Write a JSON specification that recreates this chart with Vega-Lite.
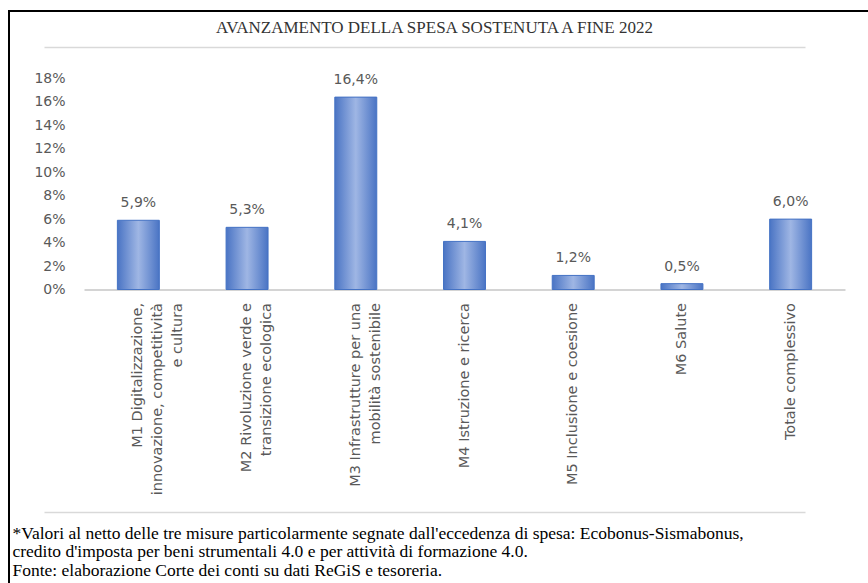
{
  "$schema": "https://vega.github.io/schema/vega-lite/v6.json",
  "autosize": {"type": "none"},
  "padding": {"left": 9, "top": 11, "right": -12, "bottom": -12},
  "width": 871,
  "height": 584,
  "background": "white",
  "title": {
    "text": "AVANZAMENTO DELLA SPESA SOSTENUTA A FINE 2022",
    "font": "Liberation Serif",
    "fontSize": 17,
    "fontWeight": "normal",
    "color": "#333333",
    "anchor": "middle",
    "frame": "group",
    "offset": -26,
    "dx": -10
  },
  "config": {
    "locale": {"number": {"decimal": ",", "thousands": ".", "grouping": [3], "currency": ["€", ""]}},
    "view": {"stroke": "#000000", "strokeWidth": 2, "fill": "white"}
  },
  "data": {
    "values": [
      {"missione": "M1 Digitalizzazione,|innovazione, competitività|e cultura", "valore": 0.059},
      {"missione": "M2 Rivoluzione verde e|transizione ecologica", "valore": 0.053},
      {"missione": "M3 Infrastrutture per una|mobilità sostenibile", "valore": 0.164},
      {"missione": "M4 Istruzione e ricerca", "valore": 0.041},
      {"missione": "M5 Inclusione e coesione", "valore": 0.012},
      {"missione": "M6 Salute", "valore": 0.005},
      {"missione": "Totale complessivo", "valore": 0.060}
    ]
  },
  "encoding": {
    "x": {
      "field": "missione",
      "type": "nominal",
      "sort": null,
      "scale": {"range": [75, 836], "paddingInner": 0.614, "paddingOuter": 0.307},
      "axis": {
        "orient": "bottom",
        "offset": -305.5,
        "labelExpr": "split(datum.label, '|')",
        "labelAngle": -90,
        "labelAlign": "right",
        "labelBaseline": "middle",
        "labelPadding": 13,
        "labelFont": "DejaVu Sans",
        "labelFontSize": 14.5,
        "labelColor": "#595959",
        "labelLineHeight": 20,
        "labelLimit": 500,
        "labelOverlap": false,
        "ticks": false,
        "domainColor": "#c6c6c6",
        "domainWidth": 1.5,
        "title": [
          "*Valori al netto delle tre misure particolarmente segnate dall'eccedenza di spesa: Ecobonus-Sismabonus,",
          "credito d'imposta per beni strumentali 4.0 e per attività di formazione 4.0.",
          "Fonte: elaborazione Corte dei conti su dati ReGiS e tesoreria."
        ],
        "titleFont": "Liberation Serif",
        "titleFontSize": 17.5,
        "titleFontWeight": "normal",
        "titleColor": "#000000",
        "titleX": 3,
        "titleY": 249,
        "titleAlign": "left",
        "titleBaseline": "alphabetic",
        "titleAngle": 0,
        "titleLineHeight": 18.3
      }
    }
  },
  "layer": [
    {
      "mark": {
        "type": "bar",
        "fill": {
          "gradient": "linear",
          "x1": 0, "y1": 0, "x2": 1, "y2": 0,
          "stops": [
            {"offset": 0, "color": "#4a74c4"},
            {"offset": 0.5, "color": "#9fb6e4"},
            {"offset": 1, "color": "#4a74c4"}
          ]
        },
        "stroke": "#4472c4",
        "strokeWidth": 1
      },
      "encoding": {
        "y": {
          "field": "valore",
          "type": "quantitative",
          "scale": {"domain": [-0.2604, 0.2374], "nice": false, "zero": false},
          "axis": {
            "orient": "left",
            "values": [0, 0.02, 0.04, 0.06, 0.08, 0.1, 0.12, 0.14, 0.16, 0.18],
            "format": "0%",
            "offset": -56,
            "labelPadding": 0,
            "ticks": false,
            "tickSize": 0,
            "domain": false,
            "grid": false,
            "title": null,
            "labelFont": "DejaVu Sans",
            "labelFontSize": 14,
            "labelColor": "#595959",
            "labelBaseline": "middle"
          }
        },
        "y2": {"datum": 0}
      }
    },
    {
      "mark": {
        "type": "text",
        "baseline": "alphabetic",
        "dy": -13,
        "font": "DejaVu Sans",
        "fontSize": 14,
        "color": "#595959"
      },
      "encoding": {
        "y": {
          "field": "valore",
          "type": "quantitative",
          "scale": {"domain": [-0.2604, 0.2374], "nice": false, "zero": false},
          "axis": {
            "orient": "right",
            "values": [-0.18963, 0.20668],
            "grid": true,
            "gridColor": "#d9d9d9",
            "gridWidth": 1.5,
            "labels": false,
            "ticks": false,
            "domain": false,
            "title": null
          }
        },
        "text": {"field": "valore", "type": "quantitative", "format": ".1%"}
      }
    }
  ],
  "resolve": {"axis": {"y": "independent"}}
}
